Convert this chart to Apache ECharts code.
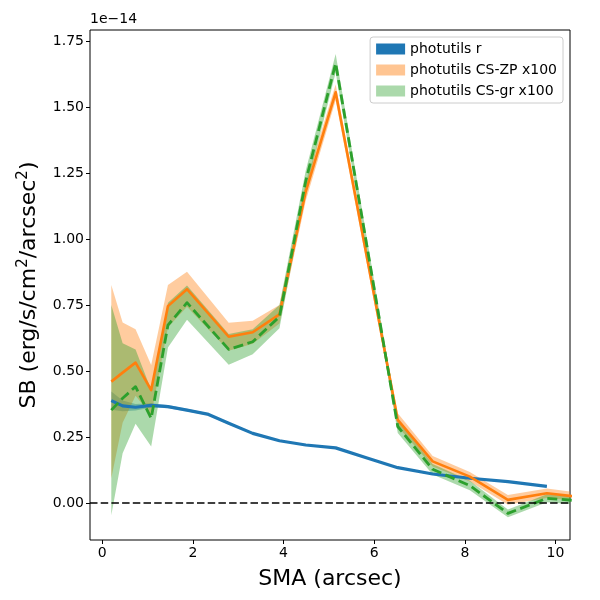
<!DOCTYPE html>
<html><head><meta charset="utf-8">
<script src="https://cdn.jsdelivr.net/npm/echarts@6/dist/echarts.min.js"></script>
<style>html,body{margin:0;padding:0;background:#fff}#c{width:600px;height:600px}</style>
</head><body><div id="c"></div>
<script>
// r-band profile
const smaR = [0.2, 0.45, 0.735, 1.08, 1.45, 1.87, 2.32, 2.79, 3.32, 3.91, 4.49, 5.15, 5.86, 6.52, 7.29, 8.11, 8.95, 9.81];
const sbR  = [0.388, 0.368, 0.363, 0.370, 0.365, 0.352, 0.337, 0.302, 0.264, 0.236, 0.220, 0.209, 0.170, 0.134, 0.110, 0.094, 0.081, 0.063];
const errR = [0.035, 0.020, 0.012, 0.008, 0.006, 0.005, 0.004, 0.004, 0.003, 0.003, 0.003, 0.003, 0.003, 0.003, 0.002, 0.002, 0.002, 0.002];
// colour-scaled profiles (x100)
const smaC  = [0.2, 0.45, 0.735, 1.08, 1.45, 1.87, 2.79, 3.32, 3.91, 4.49, 5.15, 6.52, 7.29, 8.11, 8.95, 9.81, 10.7];
const sbZP  = [0.460, 0.494, 0.532, 0.428, 0.746, 0.810, 0.630, 0.647, 0.715, 1.180, 1.556, 0.315, 0.158, 0.100, 0.012, 0.037, 0.020];
const errZP = [0.366, 0.190, 0.126, 0.095, 0.080, 0.066, 0.053, 0.044, 0.035, 0.035, 0.030, 0.025, 0.020, 0.018, 0.018, 0.018, 0.015];
const sbGR  = [0.352, 0.397, 0.441, 0.321, 0.674, 0.759, 0.582, 0.611, 0.706, 1.220, 1.666, 0.290, 0.128, 0.066, -0.039, 0.018, 0.006];
const errGR = [0.398, 0.208, 0.141, 0.107, 0.085, 0.065, 0.058, 0.047, 0.044, 0.040, 0.035, 0.025, 0.020, 0.018, 0.015, 0.015, 0.015];
const xTicks = [0, 2, 4, 6, 8, 10];
const yTicks = [0, 0.25, 0.5, 0.75, 1.0, 1.25, 1.5, 1.75];
const names = ['photutils r', 'photutils CS-ZP x100', 'photutils CS-gr x100'];

const FONT = 'DejaVu Sans';
const C_BLUE = '#1f77b4', C_OR = '#ff7f0e', C_GR = '#2ca02c';

function band(name, xs, ys, es, fill) {
  return {
    type: 'custom', name: name, z: 1, clip: true, silent: true,
    data: xs.map((x, i) => [x, ys[i] - es[i], ys[i] + es[i]]),
    encode: { x: 0, y: [1, 2] },
    renderItem: function (params, api) {
      if (params.dataIndexInside !== 0) return null;
      const up = [], lo = [];
      for (let i = 0; i < xs.length; i++) {
        up.push(api.coord([xs[i], ys[i] + es[i]]));
        lo.push(api.coord([xs[i], ys[i] - es[i]]));
      }
      return { type: 'polygon', shape: { points: up.concat(lo.reverse()) }, style: { fill: fill } };
    }
  };
}
function line(name, xs, ys, color, width, type) {
  return {
    type: 'line', name: name, z: 2, clip: true, silent: true, symbol: 'none', showSymbol: false,
    data: xs.map((x, i) => [x, ys[i]]),
    lineStyle: { color: color, width: width, type: type || 'solid', cap: 'butt', join: 'round' },
    itemStyle: { color: color }
  };
}

const chart = echarts.init(document.getElementById('c'), null, { renderer: 'canvas' });
const green = line(names[2], smaC, sbGR, C_GR, 2.8, [10, 4.5]);
green.markLine = {
  silent: true, symbol: ['none', 'none'], label: { show: false },
  lineStyle: { color: '#000', width: 1.5, type: [7.5, 3.2] },
  data: [{ yAxis: 0 }], animation: false
};
chart.setOption({
  animation: false,
  backgroundColor: '#fff',
  textStyle: { fontFamily: FONT },
  grid: { left: 90, right: 30, top: 30, bottom: 60, show: true, borderColor: '#000', borderWidth: 1, containLabel: false, outerBoundsMode: 'none' },
  legend: {
    orient: 'vertical', right: 37, top: 37, padding: [5, 6, 5, 6], itemGap: 7,
    itemWidth: 29, itemHeight: 11, borderColor: '#cccccc', borderWidth: 1, borderRadius: 3,
    backgroundColor: 'rgba(255,255,255,0.8)', selectedMode: false,
    textStyle: { fontSize: 14, color: '#000', fontFamily: FONT },
    data: [
      { name: names[0], icon: 'rect', itemStyle: { color: C_BLUE, borderWidth: 0 } },
      { name: names[1], icon: 'rect', itemStyle: { color: 'rgba(255,127,14,0.45)', borderWidth: 0 } },
      { name: names[2], icon: 'rect', itemStyle: { color: 'rgba(44,160,44,0.4)', borderWidth: 0 } }
    ]
  },
  graphic: [{ type: 'text', left: 90, top: 12, style: { text: '1e\u221214', fontSize: 14, fill: '#000', fontFamily: FONT } }],
  xAxis: {
    type: 'value', min: -0.27, max: 10.32,
    axisLine: { show: false, onZero: false }, splitLine: { show: false },
    axisTick: { show: true, length: 4, inside: false, lineStyle: { color: '#000', width: 1 }, customValues: xTicks },
    axisLabel: { customValues: xTicks, fontSize: 14, color: '#000', margin: 6, fontFamily: FONT },
    name: 'SMA (arcsec)', nameLocation: 'middle', nameGap: 28,
    nameTextStyle: { fontSize: 22, color: '#000', fontFamily: FONT }
  },
  yAxis: {
    type: 'value', min: -0.14, max: 1.792,
    axisLine: { show: false, onZero: false }, splitLine: { show: false },
    axisTick: { show: true, length: 4, inside: false, lineStyle: { color: '#000', width: 1 }, customValues: yTicks },
    axisLabel: { customValues: yTicks, fontSize: 14, color: '#000', margin: 6, fontFamily: FONT, formatter: v => v.toFixed(2) },
    name: 'SB (erg/s/cm{sup|2}/arcsec{sup|2})', nameLocation: 'middle', nameGap: 48,
    nameTextStyle: {
      fontSize: 22, color: '#000', fontFamily: FONT,
      rich: { sup: { fontSize: 15, color: '#000', fontFamily: FONT, verticalAlign: 'bottom', padding: [0, 0, 11, 0] } }
    }
  },
  series: [
    band(names[0], smaR, sbR, errR, 'rgba(31,119,180,0.4)'),
    band(names[1], smaC, sbZP, errZP, 'rgba(255,127,14,0.4)'),
    band(names[2], smaC, sbGR, errGR, 'rgba(44,160,44,0.4)'),
    line(names[0], smaR, sbR, C_BLUE, 3.2),
    line(names[1], smaC, sbZP, C_OR, 2.6),
    green
  ]
});
</script>
</body></html>
